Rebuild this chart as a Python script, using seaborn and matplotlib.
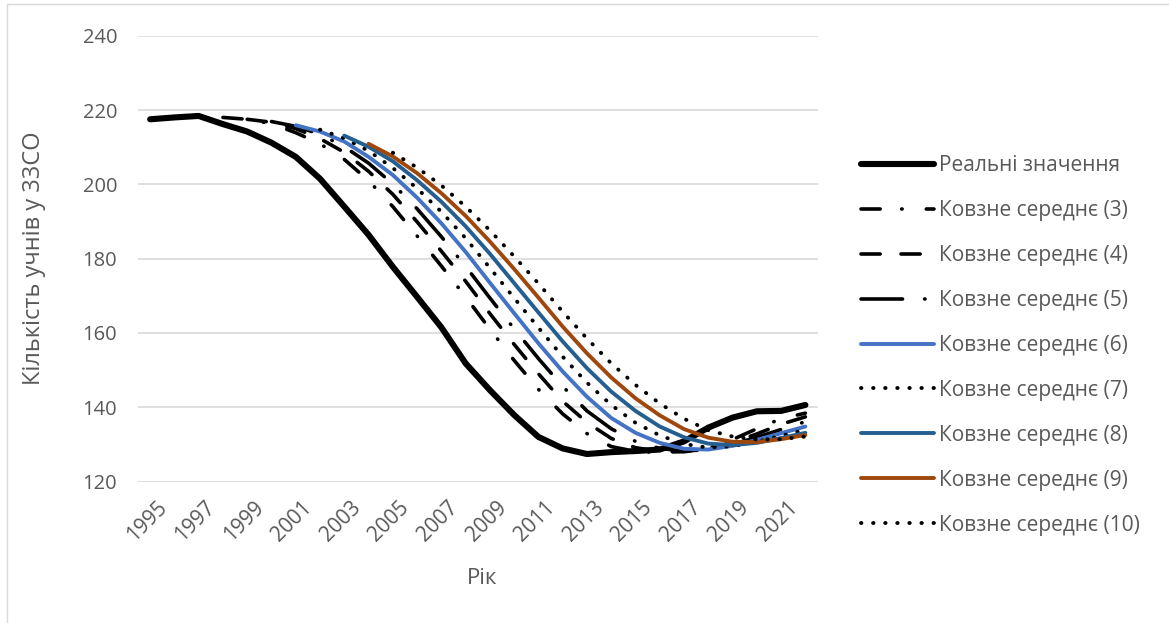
import numpy as np
import pandas as pd
import matplotlib
matplotlib.use("Agg")
import matplotlib.pyplot as plt
import matplotlib.transforms as mtransforms
import seaborn as sns
from matplotlib.patches import Rectangle

# ---- data -------------------------------------------------------------
years = list(range(1995, 2023))

real_values = [217.5, 218.0, 218.4, 216.2, 214.2, 211.2, 207.4, 201.5, 194.0, 186.4,
               177.8, 169.7, 161.5, 151.8, 144.6, 137.9, 132.0, 128.9, 127.4, 127.9,
               128.2, 128.6, 130.8, 134.5, 137.2, 138.9, 139.0, 140.6]

# moving averages, each starting n years after 1995
ma3 = [218.0, 217.5, 216.3, 213.9, 210.9, 206.7, 201.0, 194.0, 186.1, 178.0, 169.7,
       161.0, 152.6, 144.8, 138.2, 132.9, 129.4, 128.1, 127.8, 128.2, 129.2, 131.3,
       134.2, 136.9, 138.4]
ma4 = [217.5, 216.7, 215.0, 212.3, 208.6, 203.5, 197.3, 189.9, 182.0, 173.9, 165.2,
       156.9, 149.0, 141.6, 135.9, 131.6, 129.1, 128.1, 128.0, 128.9, 130.5, 132.8,
       135.4, 137.4]
ma5 = [216.9, 215.6, 213.5, 210.1, 205.7, 200.1, 193.4, 185.9, 177.9, 169.4, 161.1,
       153.1, 145.6, 139.0, 134.2, 130.8, 128.9, 128.2, 128.6, 130.0, 131.9, 134.0,
       136.1]
ma6 = [215.9, 214.2, 211.5, 207.4, 202.5, 196.4, 189.5, 181.8, 173.5, 165.3, 157.2,
       149.6, 142.8, 137.1, 133.1, 130.4, 128.8, 128.6, 129.6, 131.2, 133.0, 134.8]
ma7 = [214.7, 212.4, 209.0, 204.4, 198.9, 192.6, 185.5, 177.5, 169.4, 161.4, 153.6,
       146.6, 140.6, 135.8, 132.4, 130.1, 129.1, 129.5, 130.7, 132.3, 133.9]
ma8 = [213.1, 210.1, 206.2, 201.1, 195.3, 188.7, 181.3, 173.4, 165.5, 157.7, 150.5,
       144.2, 139.0, 134.8, 131.9, 130.2, 129.8, 130.4, 131.7, 133.1]
ma9 = [210.9, 207.5, 203.0, 197.6, 191.5, 184.6, 177.2, 169.5, 161.7, 154.5, 148.0,
       142.4, 137.8, 134.1, 131.8, 130.7, 130.6, 131.4, 132.5]
ma10 = [208.5, 204.5, 199.7, 194.0, 187.6, 180.6, 173.3, 165.7, 158.5, 151.8, 146.0,
        141.0, 136.9, 133.8, 132.1, 131.3, 131.4, 132.1]

labels = ["Реальні значення"] + [f"Ковзне середнє ({n})" for n in range(3, 11)]
y_ticks = [120, 140, 160, 180, 200, 220, 240]
x_ticks = list(range(1995, 2022, 2))

# ---- styling -----------------------------------------------------------
sns.set_theme(style="white")
plt.rcParams["font.family"] = ["Open Sans", "DejaVu Sans"]
plt.rcParams["lines.scale_dashes"] = False

TEXT = "#595959"
GRID = "#D9D9D9"

series = [real_values, ma3, ma4, ma5, ma6, ma7, ma8, ma9, ma10]
styles = [
    dict(color="black", lw=4.4, ls="-"),
    dict(color="black", lw=2.6, ls=(0, (13.8, 15.5, 0.3, 17.4))),
    dict(color="black", lw=2.6, ls=(0, (13.8, 15.0))),
    dict(color="black", lw=2.6, ls=(0, (29.9, 15.9, 0.3, 15.9))),
    dict(color="#4472C4", lw=2.8, ls="-"),
    dict(color="black", lw=2.8, ls=(0, (0.3, 8.4))),
    dict(color="#255E91", lw=2.8, ls="-"),
    dict(color="#9E480E", lw=2.8, ls="-"),
    dict(color="black", lw=2.8, ls=(0, (0.3, 8.4))),
]

fig = plt.figure(figsize=(11.69, 6.23), dpi=100)
W, H = 1169, 623
ax = fig.add_axes([138 / W, 1 - 481.5 / H, (817.5 - 138) / W, (481.5 - 35.7) / H])

# chart-area border
fig.patches.append(Rectangle((7 / W, -0.1), 1.2, 1 - 4 / H + 0.1, transform=fig.transFigure,
                             fill=False, edgecolor=GRID, lw=1.0))

for vals, lab, st in zip(series, labels, styles):
    df = pd.DataFrame({"Рік": years[len(years) - len(vals):], "value": vals})
    sns.lineplot(data=df, x="Рік", y="value", ax=ax, color=st["color"], linewidth=st["lw"],
                 linestyle=st["ls"], label=lab, dash_capstyle="round",
                 solid_capstyle="round", solid_joinstyle="round")

ax.set_xlim(1994.5, 2022.5)
ax.set_ylim(120, 240)
ax.set_yticks(y_ticks)
ax.set_xticks(x_ticks)
ax.set_xticklabels([str(y) for y in x_ticks], rotation=45, ha="right",
                   rotation_mode="anchor", color=TEXT, fontsize=15)
ax.set_yticklabels([str(v) for v in y_ticks], color=TEXT, fontsize=14.5)
ax.tick_params(axis="y", length=0, pad=15)
ax.tick_params(axis="x", length=0, pad=11)
shift = mtransforms.ScaledTranslation(6 / 100, 0, fig.dpi_scale_trans)
for t in ax.get_xticklabels():
    t.set_transform(t.get_transform() + shift)
ax.grid(axis="y", color=GRID, lw=1.2)
ax.grid(axis="x", visible=False)
for s in ax.spines.values():
    s.set_visible(False)
ax.set_axisbelow(True)

ax.set_xlabel("Рік", color=TEXT, fontsize=16)
ax.xaxis.set_label_coords(0.507, -0.195)
ax.set_ylabel("Кількість учнів у 33СО", color=TEXT, fontsize=17)
ax.yaxis.set_label_coords(-0.136, 0.5)

handles, labs = ax.get_legend_handles_labels()
leg = ax.legend(handles, labs, loc="upper left", bbox_to_anchor=(861 / W, 1 - 155 / H),
                bbox_transform=fig.transFigure, frameon=False, fontsize=15,
                handlelength=3.5, handletextpad=0.25, labelspacing=1.15,
                borderpad=0, borderaxespad=0, labelcolor=TEXT)

fig.savefig("out.png", dpi=100)
